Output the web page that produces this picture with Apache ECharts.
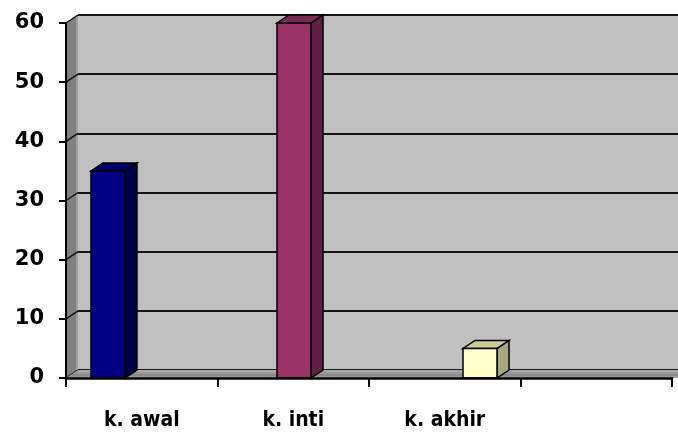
<!DOCTYPE html>
<html>
<head>
<meta charset="utf-8">
<script src="https://cdn.jsdelivr.net/npm/echarts@6/dist/echarts.min.js"></script>
<style>
  html, body { margin: 0; padding: 0; background: #fff; }
  #chart { width: 678px; height: 434px; }
</style>
</head>
<body>
<div id="chart"></div>
<script>
// kategori sumbu x (slot keempat kosong, seperti aslinya)
var categories = ['k. awal', 'k. inti', 'k. akhir', '']
// nilai batang
var barNames = ['k. awal', 'k. inti', 'k. akhir']
var barValues = [35, 60, 5]
var yTicks = [0, 10, 20, 30, 40, 50, 60]

var barColors = [
    { front: '#000080', side: '#00004a', top: '#000066' },
    { front: '#993366', side: '#621f42', top: '#7a2952' },
    { front: '#ffffcc', side: '#a8a880', top: '#cbcb9a' }
]

// geometri grid (front plane dan back wall)
var G = { left: 66, top: 23, width: 606, height: 355 }
var DX = 12, DY = -8
var BAR_W = 34

var chart = echarts.init(document.getElementById('chart'))

function render3dBar(params, api) {
    var i = params.dataIndex
    var top = api.coord([api.value(0), api.value(1)])
    var base = api.coord([api.value(0), 0])
    var x0 = top[0] - BAR_W / 2, x1 = top[0] + BAR_W / 2
    var yt = top[1], yb = base[1]
    var c = barColors[i]
    var line = { stroke: '#000', lineWidth: 1.5 }
    return {
        type: 'group',
        children: [
            {
                type: 'polygon',
                shape: { points: [[x1, yb], [x1 + DX, yb + DY], [x1 + DX, yt + DY], [x1, yt]] },
                style: Object.assign({ fill: c.side }, line)
            },
            {
                type: 'polygon',
                shape: { points: [[x0, yt], [x1, yt], [x1 + DX, yt + DY], [x0 + DX, yt + DY]] },
                style: Object.assign({ fill: c.top }, line)
            },
            {
                type: 'rect',
                shape: { x: x0, y: yt, width: BAR_W, height: yb - yt },
                style: Object.assign({ fill: c.front }, line)
            }
        ]
    }
}

// dinding kiri + lantai + garis miring per tick
function renderWalls(params, api) {
    var children = []
    var half = api.size([1, 0])[0] / 2
    var c0 = api.coord([0, 0]), c60 = api.coord([0, 60])
    var xl = c0[0] - half
    var xr = api.coord([categories.length - 1, 0])[0] + half
    var y0 = c0[1], y60 = c60[1]
    children.push({
        type: 'polygon',
        shape: { points: [[xl, y0], [xl + DX, y0 + DY], [xl + DX, y60 + DY], [xl, y60]] },
        style: { fill: '#808080' }
    })
    children.push({
        type: 'line',
        shape: { x1: xl + DX - 1, y1: y0 + DY, x2: xl + DX - 1, y2: y60 + DY },
        style: { stroke: '#a0a0a0', lineWidth: 2 }
    })
    yTicks.forEach(function (v) {
        var p = api.coord([0, v])
        children.push({
            type: 'line',
            shape: { x1: xl, y1: p[1], x2: xl + DX, y2: p[1] + DY },
            style: { stroke: '#111', lineWidth: 1.5 }
        })
    })
    // lantai
    children.push({
        type: 'polygon',
        shape: { points: [[xl, y0], [xl + DX, y0 + DY], [xr + DX + 14, y0 + DY], [xr + 14, y0]] },
        style: { fill: '#999999' }
    })
    children.push({
        type: 'line',
        shape: { x1: xl + DX, y1: y0 + DY + 1, x2: xr + DX + 14, y2: y0 + DY + 1 },
        style: { stroke: '#a8a8a8', lineWidth: 2 }
    })
    children.push({
        type: 'line',
        shape: { x1: xl + 6, y1: y0 - 3, x2: xr + 14, y2: y0 - 3 },
        style: { stroke: '#8a8a8a', lineWidth: 2 }
    })
    return { type: 'group', children: children }
}

var option = {
    backgroundColor: '#fff',
    animation: false,
    grid: [
        { left: G.left, top: G.top, width: G.width, height: G.height },
        {
            left: G.left + DX, top: G.top + DY, width: G.width + 20, height: G.height,
            show: true, backgroundColor: '#c0c0c0', borderWidth: 0
        },
        // grid untuk posisi batang
        { left: 15, top: G.top, width: 558, height: G.height }
    ],
    xAxis: [
        {
            type: 'category', gridIndex: 0, data: categories, z: 20,
            axisLine: { lineStyle: { color: '#000', width: 2.5 } },
            axisTick: { show: true, length: 9, lineStyle: { color: '#000', width: 2 } },
            axisLabel: {
                margin: 32, color: '#000', fontSize: 21, fontWeight: 'bold',
                fontFamily: 'DejaVu Sans Condensed, DejaVu Sans, sans-serif'
            },
            splitLine: { show: false }
        },
        { type: 'category', gridIndex: 2, data: barNames, show: false },
        { type: 'value', gridIndex: 1, show: false, min: 0, max: 1 }
    ],
    yAxis: [
        {
            type: 'value', gridIndex: 0, min: 0, max: 60, interval: 10, z: 20,
            axisLine: { show: true, lineStyle: { color: '#000', width: 2 } },
            axisTick: { show: true, length: 7, lineStyle: { color: '#000', width: 2 } },
            axisLabel: {
                margin: 22, color: '#000', fontSize: 21, fontWeight: 'bold',
                fontFamily: 'DejaVu Sans, sans-serif'
            },
            splitLine: { show: false }
        },
        { type: 'value', gridIndex: 2, min: 0, max: 60, show: false },
        {
            type: 'value', gridIndex: 1, min: 0, max: 60, interval: 10,
            axisLine: { show: false }, axisTick: { show: false }, axisLabel: { show: false },
            splitLine: { show: true, lineStyle: { color: '#141414', width: 2 } }
        }
    ],
    series: [
        {
            type: 'custom', name: 'dinding', xAxisIndex: 0, yAxisIndex: 0, z: 5,
            renderItem: renderWalls, data: [[0, 0]], silent: true, clip: false
        },
        {
            type: 'custom', name: 'nilai', xAxisIndex: 1, yAxisIndex: 1, z: 10,
            renderItem: render3dBar, clip: false,
            data: barValues.map(function (v, i) { return [i, v] })
        }
    ]
}
chart.setOption(option)
</script>
</body>
</html>
